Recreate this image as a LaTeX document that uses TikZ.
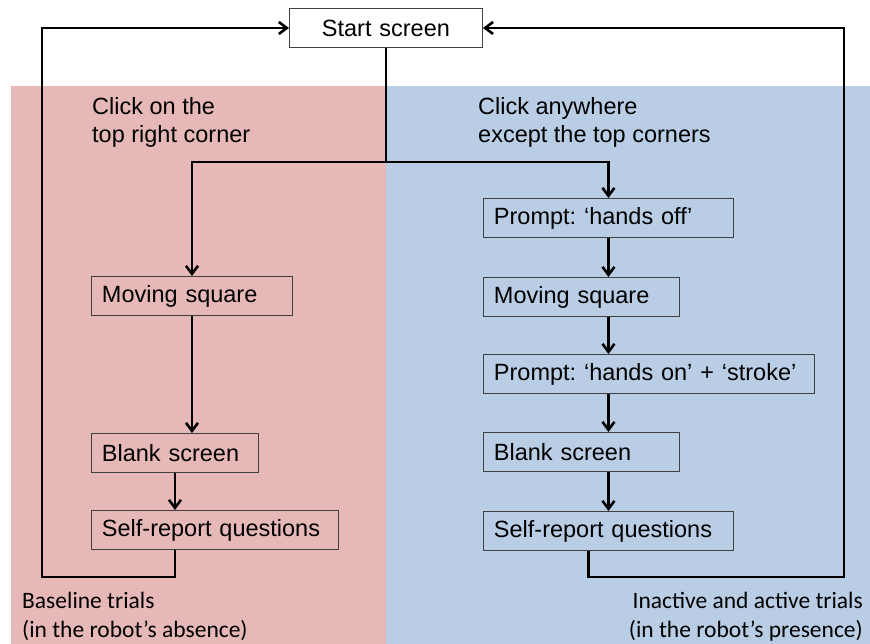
\documentclass[tikz,border=0pt]{standalone}
\usepackage{fontspec}
\setmainfont{Liberation Sans}
\newfontfamily\calibri{Carlito}
\usetikzlibrary{arrows.meta}
\definecolor{pinkbg}{HTML}{E6B8B7}
\definecolor{bluebg}{HTML}{B9CDE5}
\definecolor{boxline}{HTML}{404040}
\frenchspacing
\begin{document}
\begin{tikzpicture}[x=1pt,y=-1pt,
  flowbox/.style={draw=boxline,line width=0.9pt,anchor=north west,minimum height=39pt,
    inner xsep=10.5pt,inner ysep=0pt,align=left,font=\fontsize{23.5}{28}\selectfont},
  conn/.style={line width=2.6pt,draw=black},
  arr/.style={conn,-{Straight Barb[length=8pt,width=12pt]}},
  lbl/.style={inner sep=0pt,font=\fontsize{23.5}{28}\selectfont},
  clbl/.style={inner sep=0pt,font=\calibri\fontsize{23.5}{29}\selectfont}]
\useasboundingbox (0,0) rectangle (870,644);
% panels
\fill[pinkbg] (11,86) rectangle (386,644);
\fill[bluebg] (386,86) rectangle (870,644);
% start
\node[flowbox,fill=white,text width=172pt,align=center] (start) at (289,8) {Start screen};
% left column
\node[flowbox,text width=180pt] (lms) at (91,276) {Moving square};
\node[flowbox,text width=146pt] (lbs) at (91,433) {Blank screen};
\node[flowbox,text width=226pt] (lsr) at (91,510) {Self-report questions};
% right column
\node[flowbox,text width=229pt] (roff) at (483,198) {Prompt: ‘hands off’};
\node[flowbox,text width=175pt] (rms) at (483,277) {Moving square};
\node[flowbox,text width=310pt] (ron) at (483,354) {Prompt: ‘hands on’ + ‘stroke’};
\node[flowbox,text width=175pt] (rbs) at (483,432) {Blank screen};
\node[flowbox,text width=229pt] (rsr) at (483,511) {Self-report questions};
% labels
\node[lbl,anchor=base west] (lt1) at (92,115) {Click on the};
\node[lbl,anchor=base west] (lt2) at (92,143) {top right corner};
\node[lbl,anchor=base west] (rt1) at (478,115) {Click anywhere};
\node[lbl,anchor=base west] (rt2) at (478,143) {except the top corners};
\node[clbl,anchor=base west] (lb1) at (22,608) {Baseline trials};
\node[clbl,anchor=base west] (lb2) at (22,637) {(in the robot’s absence)};
\node[clbl,anchor=base east] (rb1) at (863,608) {Inactive and active trials};
\node[clbl,anchor=base east] (rb2) at (863,637) {(in the robot’s presence)};
% connectors
\coordinate (split) at (start.south |- 0,162);
\draw[conn] (start.south) -- (split);
\draw[arr] (split) -| (lms.north);
\draw[arr] (split) -| (roff.north);
\draw[arr] (lms.south) -- (lms.south |- lbs.north);
\draw[arr] (lbs.south) -- (lbs.south |- lsr.north);
\coordinate (lloop) at (42,577);
\draw[arr] (lbs.south |- lsr.south) |- (lloop) |- (start.west);
\draw[arr] (roff.south) -- (roff.south |- rms.north);
\draw[arr] (roff.south |- rms.south) -- (roff.south |- ron.north);
\draw[arr] (roff.south |- ron.south) -- (roff.south |- rbs.north);
\draw[arr] (roff.south |- rbs.south) -- (roff.south |- rsr.north);
\coordinate (rloop) at (844,577);
\draw[arr] ([xshift=-20pt]rsr.south) |- (rloop) |- (start.east);
\end{tikzpicture}
\end{document}
